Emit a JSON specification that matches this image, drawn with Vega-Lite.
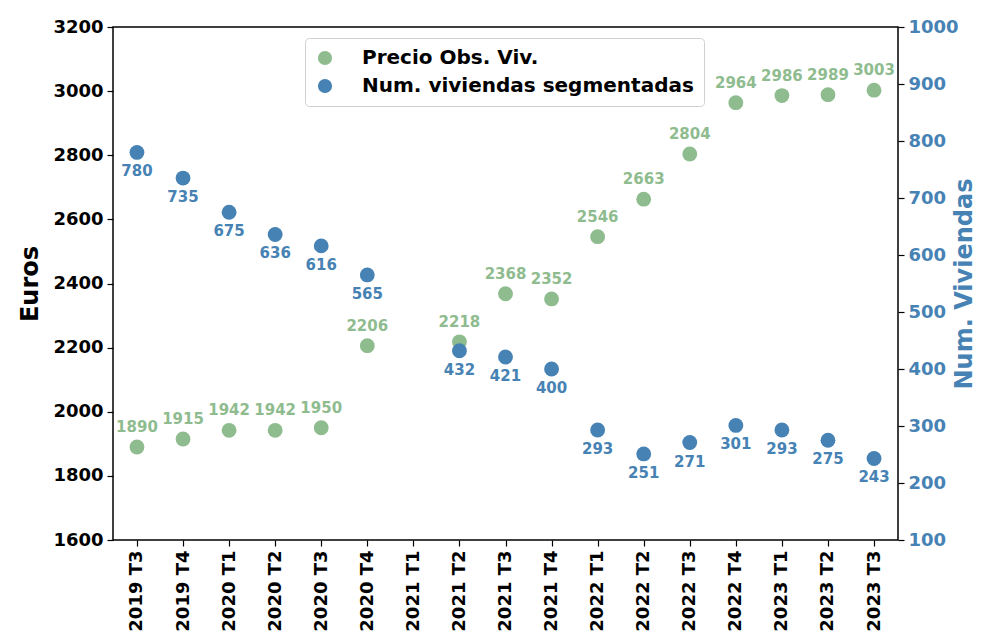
{
  "$schema": "https://vega.github.io/schema/vega-lite/v6.json",
  "autosize": {"type": "none"},
  "padding": {"left": 113, "top": 27, "right": 103, "bottom": 103},
  "width": 785,
  "height": 513,
  "background": "white",
  "config": {
    "font": "DejaVu Sans",
    "view": {"stroke": "black", "strokeWidth": 1.5},
    "axis": {
      "labelFont": "DejaVu Sans",
      "labelFontWeight": "bold",
      "labelFontSize": 18,
      "labelColor": "black",
      "titleFont": "DejaVu Sans",
      "titleFontWeight": "bold",
      "titleFontSize": 24,
      "titleColor": "black",
      "grid": false,
      "domain": false,
      "tickColor": "black",
      "tickSize": 6,
      "tickWidth": 1.2,
      "labelPadding": 4,
      "labelOverlap": false
    },
    "legend": {
      "orient": "none",
      "legendX": 192,
      "legendY": 11,
      "title": null,
      "padding": 10,
      "strokeColor": "#d0d0d0",
      "fillColor": "white",
      "cornerRadius": 4,
      "labelFont": "DejaVu Sans",
      "labelFontSize": 20,
      "labelFontWeight": "bold",
      "labelColor": "black",
      "labelLimit": 0,
      "labelOffset": 27,
      "symbolType": "circle",
      "symbolSize": 200,
      "symbolStrokeWidth": 0,
      "rowPadding": 8
    }
  },
  "data": {
    "values": [
      {"trimestre": "2019 T3", "precio": 1890, "viviendas": 780},
      {"trimestre": "2019 T4", "precio": 1915, "viviendas": 735},
      {"trimestre": "2020 T1", "precio": 1942, "viviendas": 675},
      {"trimestre": "2020 T2", "precio": 1942, "viviendas": 636},
      {"trimestre": "2020 T3", "precio": 1950, "viviendas": 616},
      {"trimestre": "2020 T4", "precio": 2206, "viviendas": 565},
      {"trimestre": "2021 T1", "precio": null, "viviendas": null},
      {"trimestre": "2021 T2", "precio": 2218, "viviendas": 432},
      {"trimestre": "2021 T3", "precio": 2368, "viviendas": 421},
      {"trimestre": "2021 T4", "precio": 2352, "viviendas": 400},
      {"trimestre": "2022 T1", "precio": 2546, "viviendas": 293},
      {"trimestre": "2022 T2", "precio": 2663, "viviendas": 251},
      {"trimestre": "2022 T3", "precio": 2804, "viviendas": 271},
      {"trimestre": "2022 T4", "precio": 2964, "viviendas": 301},
      {"trimestre": "2023 T1", "precio": 2986, "viviendas": 293},
      {"trimestre": "2023 T2", "precio": 2989, "viviendas": 275},
      {"trimestre": "2023 T3", "precio": 3003, "viviendas": 243}
    ]
  },
  "encoding": {
    "x": {
      "field": "trimestre",
      "type": "ordinal",
      "sort": null,
      "scale": {
        "type": "point",
        "padding": 0.52,
        "domain": ["2019 T3", "2019 T4", "2020 T1", "2020 T2", "2020 T3", "2020 T4", "2021 T1", "2021 T2", "2021 T3", "2021 T4", "2022 T1", "2022 T2", "2022 T3", "2022 T4", "2023 T1", "2023 T2", "2023 T3"]
      },
      "axis": {"title": null, "labelAngle": -90, "labelBaseline": "middle", "labelAlign": "right"}
    }
  },
  "layer": [
    {
      "layer": [
        {
          "mark": {"type": "point", "filled": true, "size": 220, "opacity": 1},
          "encoding": {
            "y": {
              "field": "precio",
              "type": "quantitative",
              "scale": {"domain": [1600, 3200], "nice": false, "zero": false},
              "axis": {"title": "Euros", "orient": "left", "format": "d", "values": [1600, 1800, 2000, 2200, 2400, 2600, 2800, 3000, 3200], "titlePadding": 10}
            },
            "color": {
              "datum": "Precio Obs. Viv.",
              "scale": {"domain": ["Precio Obs. Viv.", "Num. viviendas segmentadas"], "range": ["#8fbc8f", "#4682b4"]}
            }
          }
        },
        {
          "mark": {"type": "text", "dy": -20, "fontSize": 15, "fontWeight": "bold", "color": "#8fbc8f"},
          "encoding": {
            "y": {"field": "precio", "type": "quantitative"},
            "text": {"field": "precio", "type": "quantitative", "format": "d"}
          }
        }
      ]
    },
    {
      "layer": [
        {
          "mark": {"type": "point", "filled": true, "size": 220, "opacity": 1},
          "encoding": {
            "y": {
              "field": "viviendas",
              "type": "quantitative",
              "scale": {"domain": [100, 1000], "nice": false, "zero": false},
              "axis": {"title": "Num. Viviendas", "orient": "right", "format": "d", "values": [100, 200, 300, 400, 500, 600, 700, 800, 900, 1000], "labelColor": "#4682b4", "titleColor": "#4682b4", "titleAngle": -90, "titlePadding": 18}
            },
            "color": {"datum": "Num. viviendas segmentadas"}
          }
        },
        {
          "mark": {"type": "text", "dy": 19, "fontSize": 15, "fontWeight": "bold", "color": "#4682b4"},
          "encoding": {
            "y": {"field": "viviendas", "type": "quantitative"},
            "text": {"field": "viviendas", "type": "quantitative", "format": "d"}
          }
        }
      ]
    }
  ],
  "resolve": {"scale": {"y": "independent"}}
}
